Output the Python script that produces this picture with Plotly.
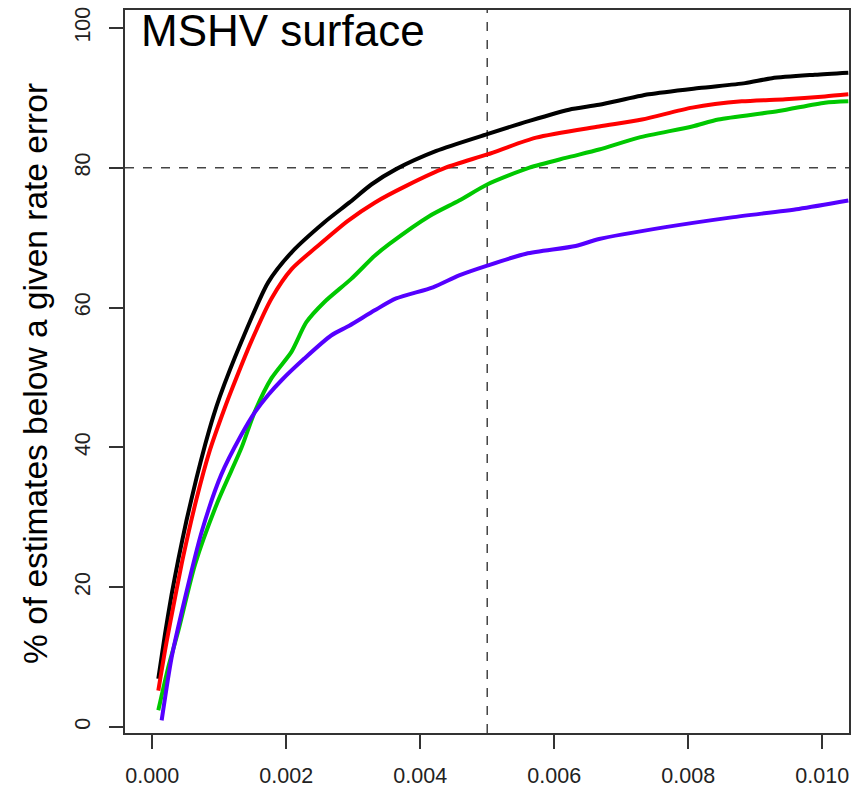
import plotly.graph_objects as go

# Cumulative share of estimates below a given rate error, MSHV surface
black_x = [0.00009, 0.00019, 0.00029, 0.00039, 0.00051, 0.00066, 0.00079, 0.00091, 0.00101, 0.00133,
           0.00173, 0.00208, 0.00257, 0.00294, 0.00327, 0.00364, 0.00424, 0.00500, 0.00563, 0.00622,
           0.00667, 0.00741, 0.00816, 0.00885, 0.00925, 0.00989, 0.01039]
black_y = [6.9, 13.3, 19.0, 24.0, 29.5, 35.6, 40.4, 44.4, 47.3, 55.1,
           63.6, 67.9, 72.2, 75.0, 77.6, 79.8, 82.4, 84.8, 86.7, 88.3,
           89.0, 90.5, 91.4, 92.1, 92.8, 93.3, 93.6]

red_x = [0.00009, 0.00021, 0.00034, 0.00046, 0.00066, 0.00086, 0.00108, 0.00120, 0.00148, 0.00178,
         0.00208, 0.00247, 0.00292, 0.00332, 0.00379, 0.00438, 0.00500, 0.00573, 0.00667, 0.00731,
         0.00806, 0.00880, 0.00945, 0.01004, 0.01039]
red_y = [5.2, 12.0, 18.5, 24.3, 32.6, 39.6, 45.6, 48.6, 55.2, 61.3,
         65.5, 68.8, 72.4, 75.0, 77.4, 80.0, 81.9, 84.3, 85.9, 86.9,
         88.6, 89.5, 89.8, 90.2, 90.5]

green_x = [0.00009, 0.00024, 0.00039, 0.00064, 0.00098, 0.00133, 0.00153, 0.00178, 0.00208, 0.00230,
           0.00257, 0.00297, 0.00332, 0.00354, 0.00414, 0.00458, 0.00500, 0.00563, 0.00617, 0.00667,
           0.00726, 0.00806, 0.00845, 0.00935, 0.01004, 0.01039]
green_y = [2.4, 8.6, 13.8, 23.3, 32.3, 39.9, 45.1, 49.9, 53.7, 57.9,
           60.8, 64.1, 67.4, 69.1, 73.1, 75.3, 77.6, 80.0, 81.4, 82.6,
           84.3, 85.9, 86.9, 88.1, 89.3, 89.5]

purple_x = [0.00014, 0.00029, 0.00049, 0.00074, 0.00103, 0.00133, 0.00153, 0.00173, 0.00193, 0.00227,
            0.00267, 0.00294, 0.00332, 0.00364, 0.00419, 0.00458, 0.00500, 0.00558, 0.00632, 0.00667,
            0.00766, 0.00865, 0.00965, 0.01039]
purple_y = [0.95, 10.0, 18.5, 28.0, 36.1, 41.8, 45.0, 47.5, 49.6, 52.7,
            56.0, 57.4, 59.6, 61.3, 62.9, 64.6, 66.0, 67.7, 68.8, 69.8,
            71.5, 72.9, 74.1, 75.3]

x_ticks = [0.000, 0.002, 0.004, 0.006, 0.008, 0.010]
x_tick_labels = ["0.000", "0.002", "0.004", "0.006", "0.008", "0.010"]
y_ticks = [0, 20, 40, 60, 80, 100]
y_tick_labels = ["0", "20", "40", "60", "80", "100"]

ref_x = 0.005
ref_y = 80

FONT = "Liberation Sans, Arial, Helvetica, sans-serif"
AXIS_COLOR = "#333333"

fig = go.Figure()
for xs, ys, col in [
    (black_x, black_y, "#000000"),
    (red_x, red_y, "#FF0000"),
    (green_x, green_y, "#00C800"),
    (purple_x, purple_y, "#5500FF"),
]:
    fig.add_trace(go.Scatter(x=xs, y=ys, mode="lines",
                             line=dict(color=col, width=4, shape="spline", smoothing=0.7),
                             showlegend=False, hoverinfo="skip"))

# reference lines
fig.add_shape(type="line", xref="x", yref="paper", x0=ref_x, x1=ref_x, y0=0, y1=1,
              line=dict(color="#444444", width=1.5, dash="dash"), layer="below")
fig.add_shape(type="line", xref="paper", yref="y", x0=0, x1=1, y0=ref_y, y1=ref_y,
              line=dict(color="#444444", width=1.5, dash="dash"), layer="below")

axis_common = dict(showgrid=False, zeroline=False, showline=True, mirror=True,
                   linecolor=AXIS_COLOR, linewidth=2, ticks="outside", ticklen=14,
                   tickwidth=1.5, tickcolor=AXIS_COLOR,
                   tickfont=dict(family=FONT, size=21.5, color="#222222"))

fig.update_xaxes(range=[-0.000407, 0.0104], tickvals=x_ticks, ticktext=x_tick_labels,
                 ticklabelstandoff=8, **axis_common)
fig.update_yaxes(range=[-0.855, 102.56], tickvals=y_ticks, ticktext=y_tick_labels,
                 tickangle=-90, ticklabelstandoff=10, **axis_common)

fig.add_annotation(text="% of estimates below a given rate error", xref="paper", yref="paper",
                   x=-0.124, y=0.497, xanchor="center", yanchor="middle", textangle=-90,
                   showarrow=False, font=dict(family=FONT, size=33.5, color="#000000"))
fig.add_annotation(text="MSHV surface", xref="paper", yref="paper",
                   x=0.019, y=0.992, xanchor="left", yanchor="top", yshift=12,
                   showarrow=False, font=dict(family=FONT, size=44, color="#000000"))

fig.update_layout(width=857, height=794, margin=dict(l=125, r=6, t=10, b=58),
                  paper_bgcolor="white", plot_bgcolor="white")

fig.write_html("out.html")
